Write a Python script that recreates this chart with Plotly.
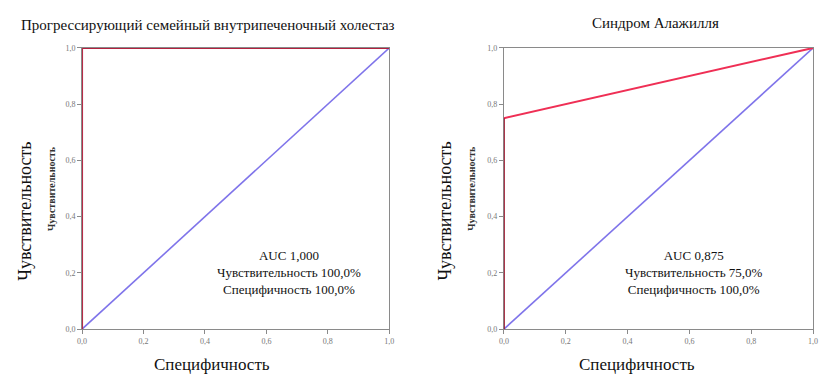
import plotly.graph_objects as go

# ROC data: (1 - specificity) on x, sensitivity on y
titles = ["Прогрессирующий семейный внутрипеченочный холестаз", "Синдром Алажилля"]
roc_x_pfic = [0.0, 0.0, 1.0]
roc_y_pfic = [0.0, 1.0, 1.0]
roc_x_alag = [0.0, 0.0, 1.0]
roc_y_alag = [0.0, 0.75, 1.0]
ref_x = [0.0, 1.0]
ref_y = [0.0, 1.0]
auc_values = ["1,000", "0,875"]
sens_values = ["100,0%", "75,0%"]
spec_values = ["100,0%", "100,0%"]
tick_vals = [0.0, 0.2, 0.4, 0.6, 0.8, 1.0]
tick_text = ["0,0", "0,2", "0,4", "0,6", "0,8", "1,0"]

W, H = 826, 381
SERIF = "Liberation Serif"

fig = go.Figure()

# diagonal reference lines
for ax in ["", "2"]:
    fig.add_trace(go.Scatter(x=ref_x, y=ref_y, mode="lines", xaxis="x" + ax, yaxis="y" + ax,
                             line=dict(color="#7f74ea", width=1.6), showlegend=False,
                             hoverinfo="skip", cliponaxis=False))

# ROC curves
fig.add_trace(go.Scatter(x=roc_x_pfic, y=roc_y_pfic, mode="lines", xaxis="x", yaxis="y",
                         line=dict(color="#b3203e", width=2), showlegend=False, cliponaxis=False))
fig.add_trace(go.Scatter(x=roc_x_alag[1:], y=roc_y_alag[1:], mode="lines", xaxis="x2", yaxis="y2",
                         line=dict(color="#ef2f55", width=2), showlegend=False, cliponaxis=False))
fig.add_trace(go.Scatter(x=roc_x_alag[:2], y=roc_y_alag[:2], mode="lines", xaxis="x2", yaxis="y2",
                         line=dict(color="#9e1c34", width=2), showlegend=False, cliponaxis=False))

x_domains = [[78 / W, 389 / W], [505 / W, 818 / W]]
y_domain = [(H - 333) / H, (H - 45) / H]

axis_common = dict(range=[0, 1], tickvals=tick_vals, ticktext=tick_text,
                   showline=True, mirror=True, linecolor="#8a8a8a", linewidth=1,
                   ticks="outside", ticklen=4, tickcolor="#8a8a8a",
                   showgrid=False, zeroline=False, layer="below traces",
                   tickfont=dict(family=SERIF, size=8, color="#777777"))

layout = dict(
    width=W, height=H, margin=dict(l=0, r=0, t=0, b=0),
    paper_bgcolor="white", plot_bgcolor="white",
    xaxis=dict(domain=x_domains[0], anchor="y", **axis_common),
    yaxis=dict(domain=y_domain, anchor="x", **axis_common),
    xaxis2=dict(domain=x_domains[1], anchor="y2", **axis_common),
    yaxis2=dict(domain=y_domain, anchor="x2", **axis_common),
)
fig.update_layout(**layout)

annotations = []
title_pos = [(205, 21), (658, 19)]
xtitle_pos = [(210, 369), (640, 369)]
big_ytitle_x = [20, 445]
small_ytitle_x = [47, 472]
text_pos = [(287, 275), (697, 275)]
for i in range(2):
    tx, ty = title_pos[i]
    annotations.append(dict(x=tx / W, y=1 - ty / H, xref="paper", yref="paper", text=titles[i],
                            showarrow=False, font=dict(family=SERIF, size=15, color="#111111"),
                            xanchor="center", yanchor="middle"))
    xx, xy = xtitle_pos[i]
    annotations.append(dict(x=xx / W, y=1 - xy / H, xref="paper", yref="paper", text="Специфичность",
                            showarrow=False, font=dict(family=SERIF, size=17, color="#111111"),
                            xanchor="center", yanchor="middle"))
    annotations.append(dict(x=big_ytitle_x[i] / W, y=1 - 212 / H, xref="paper", yref="paper",
                            text="Чувствительность", textangle=-90, showarrow=False,
                            font=dict(family=SERIF, size=18, color="#111111"),
                            xanchor="center", yanchor="middle"))
    annotations.append(dict(x=small_ytitle_x[i] / W, y=1 - 189 / H, xref="paper", yref="paper",
                            text="<b>Чувствительность</b>", textangle=-90, showarrow=False,
                            font=dict(family=SERIF, size=10, color="#333333"),
                            xanchor="center", yanchor="middle"))
    px, py = text_pos[i]
    annotations.append(dict(x=px / W, y=1 - py / H, xref="paper", yref="paper",
                            text=f"AUC {auc_values[i]}<br>Чувствительность {sens_values[i]}<br>Специфичность {spec_values[i]}",
                            showarrow=False, align="center",
                            font=dict(family=SERIF, size=13, color="#111111"),
                            xanchor="center", yanchor="middle"))
fig.update_layout(annotations=annotations)

fig.write_html("out.html")
